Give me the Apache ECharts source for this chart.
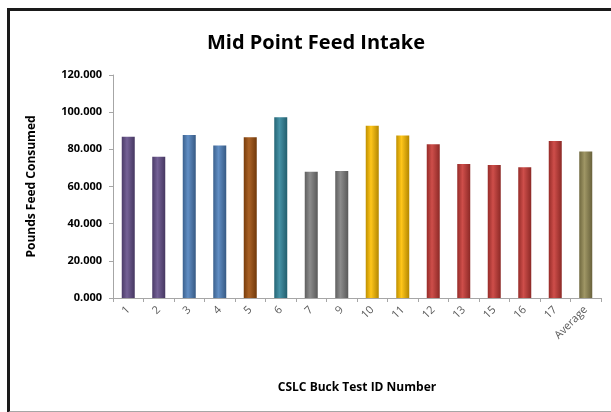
<!DOCTYPE html>
<html>
<head>
<meta charset="utf-8">
<script src="https://cdn.jsdelivr.net/npm/echarts@6/dist/echarts.min.js"></script>
<style>
  html, body { margin: 0; padding: 0; background: #fff; }
  #frame {
    position: absolute; left: 7px; top: 8px; width: 620px; height: 400px;
    border-left: 3px solid #1a1a1a; border-top: 3px solid #1a1a1a;
    border-bottom: 2px solid #a6a6a6;
  }
  #chart { position: absolute; left: 0; top: 0; width: 611px; height: 412px; }
</style>
</head>
<body>
<div id="frame"></div>
<div id="chart"></div>
<script>
// 数据
const categories = ['1', '2', '3', '4', '5', '6', '7', '9', '10', '11', '12', '13', '15', '16', '17', 'Average'];
const feedValues = [86.8, 76.0, 87.7, 82.0, 86.5, 97.2, 68.0, 68.3, 92.7, 87.4, 82.7, 72.1, 71.6, 70.3, 84.5, 78.8];
const barColors = ['#644f8a', '#644f8a', '#4f81bd', '#4f81bd', '#a0500e', '#31869c', '#7f7f7f', '#7f7f7f',
  '#ffc000', '#ffc000', '#c83a36', '#c83a36', '#c83a36', '#c83a36', '#c83a36', '#948a54'];

// 圆柱效果：两边暗，中间亮
const shade = (hex, f) => {
  const n = parseInt(hex.slice(1), 16);
  const c = [n >> 16, (n >> 8) & 255, n & 255].map((v) => Math.max(0, Math.min(255, Math.round(f > 0 ? v + (255 - v) * f : v * (1 + f)))));
  return 'rgb(' + c.join(',') + ')';
};

const chart = echarts.init(document.getElementById('chart'));
chart.setOption({
  animation: false,
  title: {
    text: 'Mid Point Feed Intake',
    left: 311,
    top: 28,
    textAlign: 'center',
    textStyle: { fontFamily: 'Open Sans', fontWeight: 'bold', fontSize: 20, color: '#000' },
  },
  grid: { left: 113, right: 10, top: 75, bottom: 114 },
  xAxis: {
    type: 'category',
    data: categories,
    name: 'CSLC Buck Test ID Number',
    nameLocation: 'middle',
    nameGap: 84,
    nameTextStyle: { fontFamily: 'Open Sans', fontWeight: 'bold', fontSize: 12, color: '#000' },
    axisLine: { lineStyle: { color: '#a6a6a6', width: 1 } },
    axisTick: { show: true, length: 4, lineStyle: { color: '#a6a6a6' } },
    axisLabel: { rotate: 45, fontFamily: 'Open Sans', fontSize: 11, color: '#595959', margin: 10 },
  },
  yAxis: {
    type: 'value',
    min: 0,
    max: 120,
    interval: 20,
    name: 'Pounds Feed Consumed',
    nameLocation: 'middle',
    nameGap: 75,
    nameRotate: 90,
    nameTextStyle: { fontFamily: 'Open Sans', fontWeight: 'bold', fontSize: 12, color: '#000' },
    axisLine: { show: true, lineStyle: { color: '#a6a6a6', width: 1 } },
    axisTick: { show: true, length: 4, lineStyle: { color: '#a6a6a6' } },
    splitLine: { show: false },
    axisLabel: {
      fontFamily: 'Open Sans', fontWeight: 'bold', fontSize: 11, color: '#000', margin: 11,
      formatter: (v) => v.toFixed(3),
    },
  },
  series: [
    {
      type: 'bar',
      barWidth: 13,
      data: feedValues.map((v, i) => ({
        value: v,
        itemStyle: {
          color: {
            type: 'linear', x: 0, y: 0, x2: 1, y2: 0,
            colorStops: [
              { offset: 0, color: shade(barColors[i], -0.25) },
              { offset: 0.4, color: shade(barColors[i], 0.1) },
              { offset: 1, color: shade(barColors[i], -0.3) },
            ],
          },
        },
      })),
    },
  ],
});
</script>
</body>
</html>
